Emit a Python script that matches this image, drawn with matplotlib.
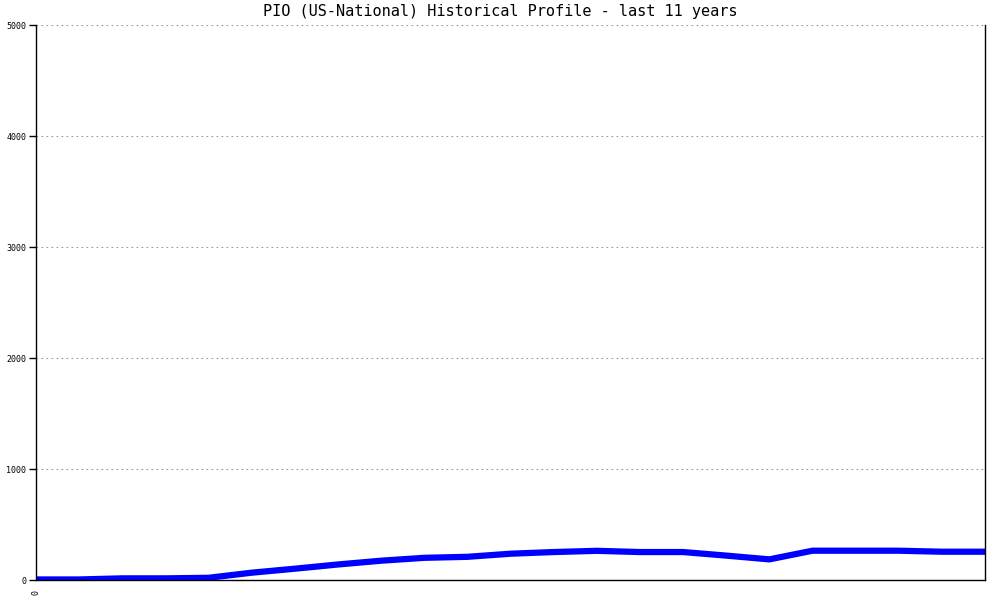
import matplotlib
matplotlib.use('Agg')
import matplotlib.pyplot as plt

# half-year steps over the last 11 years
periods = list(range(23))
values = [5, 5, 15, 15, 20, 66, 102, 140, 174, 200, 209, 237, 252, 263,
          252, 252, 220, 186, 264, 264, 264, 255, 255]
y_ticks = [0, 1000, 2000, 3000, 4000, 5000]
x_tick_labels = ['0']

fig = plt.figure(figsize=(10, 6), dpi=100)
ax = fig.add_axes([0.036, 0.0333, 0.949, 0.925])

ax.plot(periods, values, color='#0000ff', linewidth=4.5, solid_capstyle='butt')

ax.set_xlim(0, 22)
ax.set_ylim(0, 5000)
ax.set_yticks(y_ticks)
ax.set_yticklabels([str(t) for t in y_ticks], fontsize=6, family='DejaVu Sans Mono')
ax.set_xticks([0])
ax.set_xticklabels(x_tick_labels, fontsize=6, rotation=90, family='DejaVu Sans Mono')
ax.tick_params(axis='y', length=5, width=1, pad=2)
ax.tick_params(axis='x', length=0, pad=7)

ax.yaxis.grid(True, linestyle=(0, (1.5, 3)), color='#999999', linewidth=0.8)
ax.set_axisbelow(True)
ax.spines['top'].set_visible(False)
for s in ['left', 'bottom', 'right']:
    ax.spines[s].set_color('black')
    ax.spines[s].set_linewidth(1)

fig.suptitle('PIO (US-National) Historical Profile - last 11 years',
             y=0.993, fontsize=11, family='DejaVu Sans Mono')

fig.savefig('out.png', dpi=100)
